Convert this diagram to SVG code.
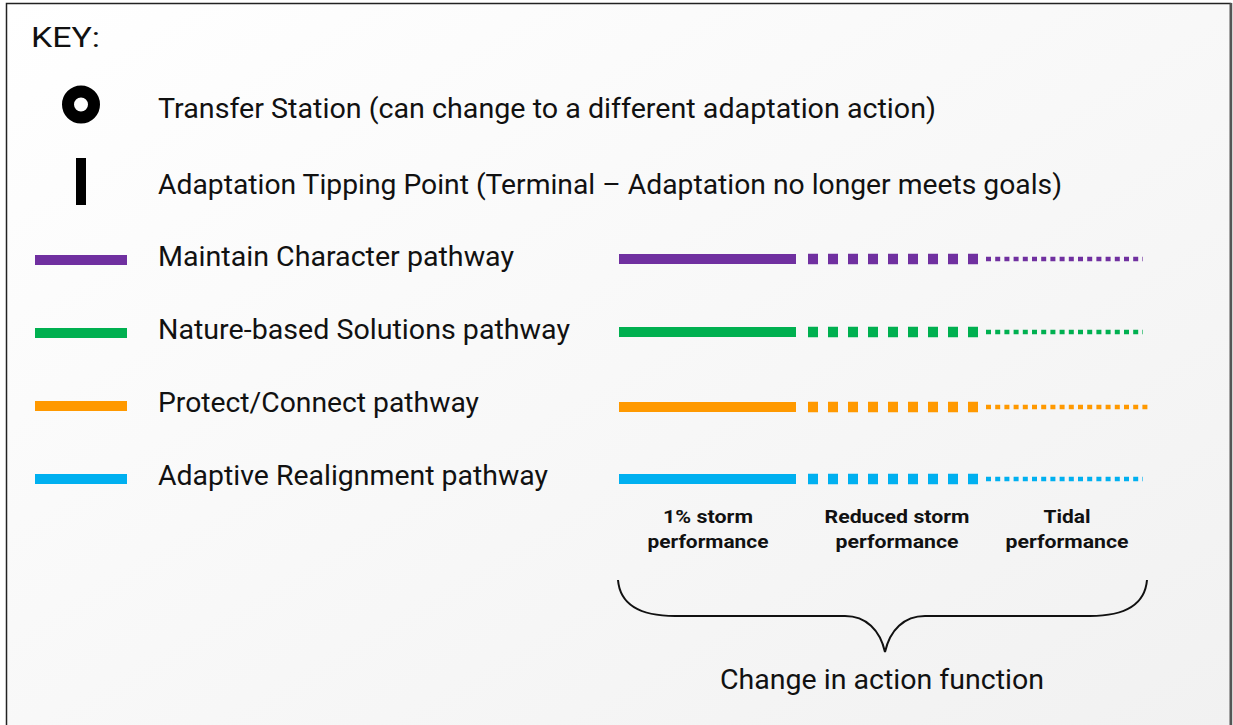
<svg xmlns="http://www.w3.org/2000/svg" width="1233" height="725" viewBox="0 0 1233 725">
<style>
.t{font-family:Roboto,"Liberation Sans",sans-serif;font-size:27px;fill:#111}
.b{font-family:Roboto,"Liberation Sans",sans-serif;font-size:19px;font-weight:bold;fill:#111;text-anchor:middle}
.solid{stroke-width:10;fill:none}
.sq{stroke-width:10.5;stroke-dasharray:10 10;fill:none}
.dot{stroke-width:4.5;stroke-dasharray:5 4.2;fill:none}
.p{stroke:#7030a0}.g{stroke:#00b050}.o{stroke:#ff9900}.c{stroke:#00b0f0}
</style>
<defs>
<linearGradient id="bg" x1="0" y1="0" x2="1" y2="1">
<stop offset="0" stop-color="#ffffff"/>
<stop offset="1" stop-color="#f1f1f1"/>
</linearGradient>
</defs>
<rect x="0" y="0" width="1233" height="725" fill="#ffffff"/>
<rect x="6.5" y="3.5" width="1224" height="730" fill="url(#bg)" stroke="#222" stroke-width="1.5"/>
<line x1="1231" y1="3" x2="1231" y2="725" stroke="#555" stroke-width="2.5"/>
<text class="t" x="31" y="47" font-size="35" textLength="69" lengthAdjust="spacingAndGlyphs">KEY:</text>
<g id="transfer-station">
<circle cx="81" cy="104.5" r="13" fill="none" stroke="#000" stroke-width="12"/>
<text class="t" x="158" y="118" textLength="778" lengthAdjust="spacingAndGlyphs">Transfer Station (can change to a different adaptation action)</text>
</g>
<g id="tipping-point">
<rect x="76" y="158" width="10" height="47" fill="#000"/>
<text class="t" x="158" y="194" textLength="904" lengthAdjust="spacingAndGlyphs">Adaptation Tipping Point (Terminal – Adaptation no longer meets goals)</text>
</g>
<g id="maintain-character">
<line class="solid p" x1="35" y1="260" x2="127" y2="260"/>
<text class="t" x="158" y="266" textLength="356" lengthAdjust="spacingAndGlyphs">Maintain Character pathway</text>
</g>
<g id="nature-based">
<line class="solid g" x1="35" y1="333" x2="127" y2="333"/>
<text class="t" x="158" y="339" textLength="412" lengthAdjust="spacingAndGlyphs">Nature-based Solutions pathway</text>
</g>
<g id="protect-connect">
<line class="solid o" x1="35" y1="406" x2="127" y2="406"/>
<text class="t" x="158" y="412" textLength="321" lengthAdjust="spacingAndGlyphs">Protect/Connect pathway</text>
</g>
<g id="adaptive-realignment">
<line class="solid c" x1="35" y1="479" x2="127" y2="479"/>
<text class="t" x="158" y="485" textLength="390" lengthAdjust="spacingAndGlyphs">Adaptive Realignment pathway</text>
</g>
<g id="connectors">
<line class="solid p" x1="619" y1="259" x2="796" y2="259"/>
<line class="sq p" x1="808" y1="259" x2="978" y2="259"/>
<line class="dot p" x1="986" y1="259" x2="1143" y2="259"/>
<line class="solid g" x1="619" y1="332" x2="796" y2="332"/>
<line class="sq g" x1="808" y1="332" x2="978" y2="332"/>
<line class="dot g" x1="986" y1="332" x2="1143" y2="332"/>
<line class="solid o" x1="619" y1="407" x2="796" y2="407"/>
<line class="sq o" x1="808" y1="407" x2="978" y2="407"/>
<line class="dot o" x1="986" y1="407" x2="1148" y2="407"/>
<line class="solid c" x1="619" y1="479" x2="796" y2="479"/>
<line class="sq c" x1="808" y1="479" x2="978" y2="479"/>
<line class="dot c" x1="986" y1="479" x2="1143" y2="479"/>
<path d="M618 580 C620 604 640 616 675 616 L845 616 C866 616 880 630 885 652 C890 630 904 616 925 616 L1090 616 C1125 616 1145 604 1147 580" fill="none" stroke="#111" stroke-width="2"/>
</g>
<g id="labels">
<text class="b" x="708" y="523" textLength="90" lengthAdjust="spacingAndGlyphs">1% storm</text>
<text class="b" x="708" y="548" textLength="121" lengthAdjust="spacingAndGlyphs">performance</text>
<text class="b" x="897" y="523" textLength="145" lengthAdjust="spacingAndGlyphs">Reduced storm</text>
<text class="b" x="897" y="548" textLength="123" lengthAdjust="spacingAndGlyphs">performance</text>
<text class="b" x="1067" y="523" textLength="47" lengthAdjust="spacingAndGlyphs">Tidal</text>
<text class="b" x="1067" y="548" textLength="123" lengthAdjust="spacingAndGlyphs">performance</text>
<text class="t" x="882" y="689" text-anchor="middle" textLength="324" lengthAdjust="spacingAndGlyphs">Change in action function</text>
</g>
</svg>
